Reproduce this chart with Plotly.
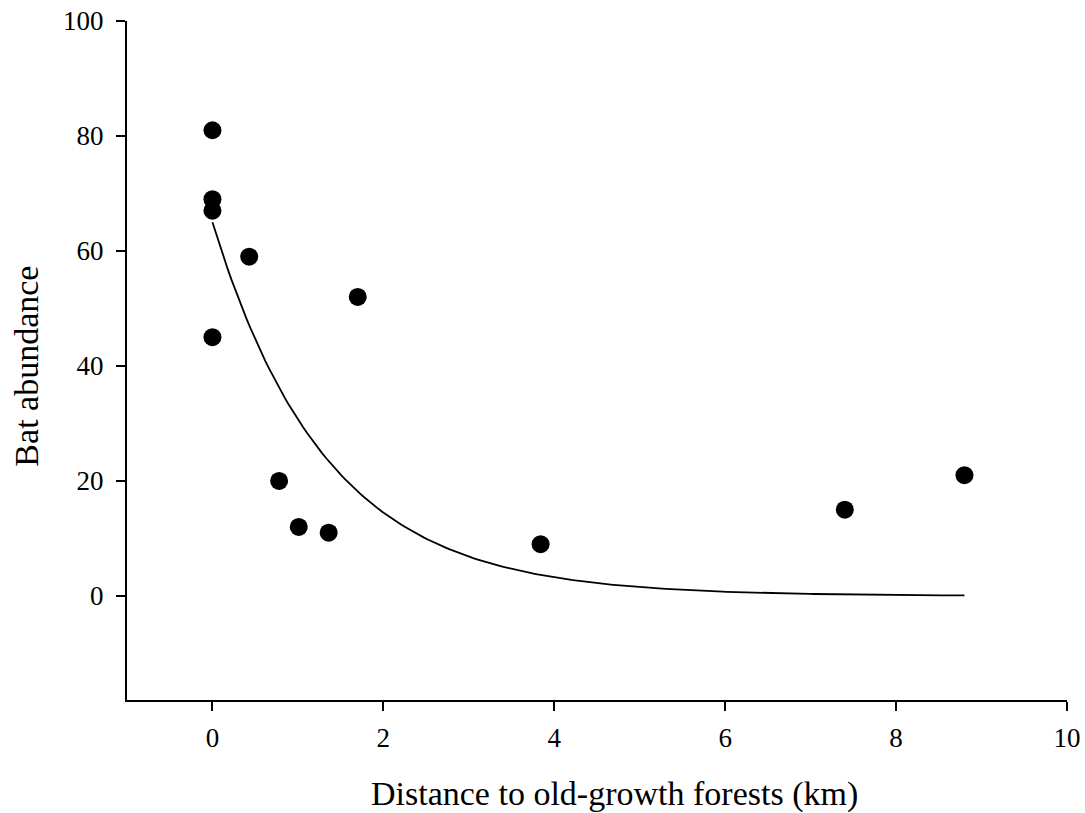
import numpy as np
import plotly.graph_objects as go

# Observed sites: distance to nearest old-growth forest (km) and bat captures
distance_km = [0.0, 0.0, 0.0, 0.0, 0.43, 0.78, 1.01, 1.36, 1.70, 3.84, 7.40, 8.80]
bat_abundance = [81, 69, 67, 45, 59, 20, 12, 11, 52, 9, 15, 21]

# Exponential decay model y = a * exp(-b * x)
fit_a = 65.0
fit_b = 0.75
fit_x = np.linspace(0.0, 8.8, 200)
fit_y = fit_a * np.exp(-fit_b * fit_x)

x_ticks = [0, 2, 4, 6, 8, 10]
y_ticks = [0, 20, 40, 60, 80, 100]

font_family = "Liberation Serif, Times New Roman, serif"

fig = go.Figure()
fig.add_trace(go.Scatter(
    x=fit_x, y=fit_y, mode="lines",
    line=dict(color="black", width=1.8),
    showlegend=False, hoverinfo="skip",
))
fig.add_trace(go.Scatter(
    x=distance_km, y=bat_abundance, mode="markers",
    marker=dict(color="black", size=18, line=dict(width=0)),
    showlegend=False,
))

axis_common = dict(
    showline=True, linecolor="black", linewidth=2,
    ticks="outside", ticklen=9, tickwidth=2, tickcolor="black",
    showgrid=False, zeroline=False, automargin=False,
    tickfont=dict(family=font_family, size=27, color="black"),
)

fig.update_layout(
    width=1085, height=813,
    margin=dict(l=127, r=18, t=21, b=113),
    paper_bgcolor="white", plot_bgcolor="white",
    font=dict(family=font_family, color="black"),
    xaxis=dict(range=[-1.0, 10.0], tickvals=x_ticks, ticklabelstandoff=4, **axis_common),
    yaxis=dict(range=[-18.1, 100.0], tickvals=y_ticks, ticklabelstandoff=7, **axis_common),
    annotations=[
        dict(text="Distance to old-growth forests (km)", xref="paper", yref="paper",
             x=0.519, y=-0.1075, xanchor="center", yanchor="top", showarrow=False,
             font=dict(family=font_family, size=34, color="black")),
        dict(text="Bat abundance", xref="paper", yref="paper",
             x=-0.1067, y=0.492, xanchor="center", yanchor="middle", showarrow=False,
             textangle=-90,
             font=dict(family=font_family, size=34, color="black")),
    ],
)

fig.write_html("out.html")
